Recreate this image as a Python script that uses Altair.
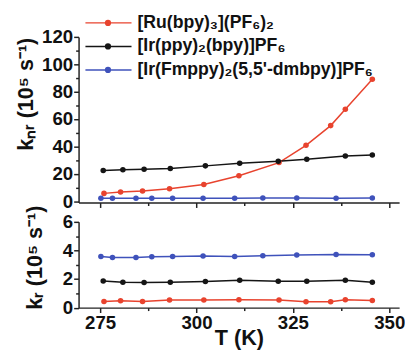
import altair as alt
import pandas as pd

series = ["[Ru(bpy)₃](PF₆)₂", "[Ir(ppy)₂(bpy)]PF₆", "[Ir(Fmppy)₂(5,5'-dmbpy)]PF₆"]
colors = ["#e8432e", "#151515", "#3f52bb"]

T_ru = [276.0, 280.3, 286.0, 293.0, 301.9, 311.0, 321.4, 328.4, 334.8, 338.6, 345.6]
knr_ru = [5.7, 6.7, 7.4, 9.1, 12.2, 18.6, 28.2, 40.8, 55.2, 67.1, 89.0]
kr_ru = [0.43, 0.48, 0.43, 0.53, 0.53, 0.55, 0.53, 0.41, 0.41, 0.55, 0.50]

T_ppy = [275.8, 280.9, 286.4, 293.2, 302.3, 311.2, 321.2, 328.6, 338.6, 345.6]
knr_ppy = [22.4, 22.9, 23.4, 23.9, 25.8, 27.7, 29.1, 30.6, 33.0, 33.7]
kr_ppy = [1.87, 1.78, 1.76, 1.78, 1.83, 1.92, 1.85, 1.85, 1.92, 1.78]

T_fm = [275.2, 278.2, 284.3, 288.4, 293.8, 301.7, 309.9, 317.2, 326.0, 336.2, 345.6]
knr_fm = [2.1, 2.2, 2.2, 2.2, 2.2, 2.1, 2.2, 2.3, 2.3, 2.2, 2.3]
kr_fm = [3.58, 3.51, 3.51, 3.56, 3.58, 3.61, 3.58, 3.63, 3.68, 3.72, 3.70]

x_ticks = [275, 287.5, 300, 312.5, 325, 337.5, 350]
knr_ticks = [0, 10, 20, 30, 40, 50, 60, 70, 80, 90, 100, 110, 120]
kr_ticks = [0, 1, 2, 3, 4, 5, 6]

rows = []
for s, Ts, a, b in [(series[0], T_ru, knr_ru, kr_ru),
                    (series[1], T_ppy, knr_ppy, kr_ppy),
                    (series[2], T_fm, knr_fm, kr_fm)]:
    for t, v1, v2 in zip(Ts, a, b):
        rows.append({"series": s, "T": t, "knr": v1, "kr": v2})
df = pd.DataFrame(rows)
leg = pd.DataFrame({"series": series, "row": [0, 1, 2]})

FONT = "Liberation Sans"
color = alt.Color("series:N", scale=alt.Scale(domain=series, range=colors), legend=None)
xscale = alt.Scale(domain=[269.41, 352.55], nice=False, zero=False)

def tsize(mod):
    return {"condition": {"test": f"datum.value % {mod} == 0", "value": 5}, "value": 3}

# top panel
xt = alt.X("T:Q", scale=xscale,
           axis=alt.Axis(values=x_ticks, labels=False, title=None, tickSize=tsize(25)))
yt = alt.Y("knr:Q", scale=alt.Scale(domain=[-1, 120], nice=False, zero=False),
           axis=alt.Axis(values=knr_ticks, labelExpr="datum.value % 20 == 0 ? datum.label : ''",
                         tickSize=tsize(20), title="kₙᵣ (10⁵ s⁻¹)", titleAngle=270,
                         titleX=-54, titleY=58, titleAlign="center", titleBaseline="middle"))
base_top = alt.Chart(df).encode(x=xt, y=yt, color=color)
main_top = alt.layer(base_top.mark_line(strokeWidth=1.5), base_top.mark_circle(size=32, opacity=1))

ly = alt.Y("row:Q", scale=alt.Scale(domain=[0, 2], range=[-14.3, 33.7]), axis=None)
lbase = alt.Chart(leg)
leg_layer = alt.layer(
    lbase.mark_rule(strokeWidth=1.5).encode(x=alt.value(7), x2=alt.value(54), y=ly, color=color),
    lbase.mark_circle(size=40, opacity=1).encode(x=alt.value(30), y=ly, color=color),
    lbase.mark_text(align="left", baseline="middle", font=FONT, fontSize=18,
                    fontWeight="bold", color="#111").encode(x=alt.value(60), y=ly, text="series:N"),
)
top = alt.layer(main_top, leg_layer).resolve_scale(y="independent").properties(width=327, height=169)

# bottom panel
xb = alt.X("T:Q", scale=xscale,
           axis=alt.Axis(values=x_ticks, labelExpr="datum.value % 25 == 0 ? datum.label : ''",
                         tickSize=tsize(25), title="T (K)", titlePadding=-4))
yb = alt.Y("kr:Q", scale=alt.Scale(domain=[0, 6], nice=False, zero=False),
           axis=alt.Axis(values=kr_ticks, labelExpr="datum.value % 2 == 0 ? datum.label : ''",
                         tickSize=tsize(2), title="kᵣ (10⁵ s⁻¹)", titleAngle=270,
                         titleX=-45, titleY=36, titleAlign="center", titleBaseline="middle"))
base_bot = alt.Chart(df).encode(x=xb, y=yb, color=color)
bot = alt.layer(base_bot.mark_line(strokeWidth=1.5),
                base_bot.mark_circle(size=32, opacity=1)).properties(width=327, height=87.5)

chart = alt.vconcat(top, bot, spacing=19.7, bounds="flush").properties(
    padding={"left": 7, "top": 2, "right": 0, "bottom": 0}
).configure_axis(
    domainColor="#222", domainWidth=1.5, tickColor="#222", tickWidth=1.5,
    labelFont=FONT, labelFontSize=19, labelFontWeight="bold", labelColor="#111",
    titleFont=FONT, titleFontSize=22, titleFontWeight="bold", titleColor="#111",
    labelPadding=1, grid=False
).configure_view(stroke=None)

chart.save("out.html", embed_options={"renderer": "svg", "actions": False})
